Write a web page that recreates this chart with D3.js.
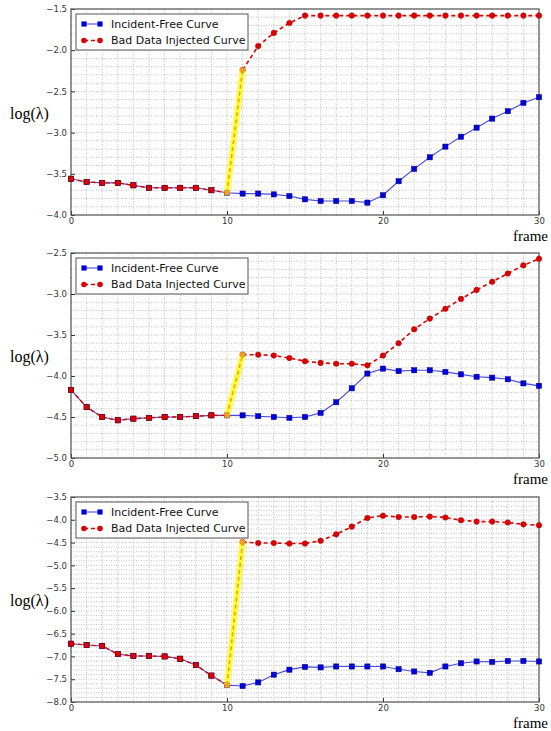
<!DOCTYPE html>
<html>
<head>
<meta charset="utf-8">
<script src="https://cdnjs.cloudflare.com/ajax/libs/d3/7.8.5/d3.min.js"></script>
<style>
  body { margin: 0; background: #fff; }
  svg { display: block; }
</style>
</head>
<body>
<svg width="551" height="731"></svg>
<script>
// frames on the x axis
const frames = d3.range(0, 31);
const xTicks = [0, 10, 20, 30];
const attackFrame = 10;

// panel 1
const free1 = [-3.56, -3.60, -3.61, -3.61, -3.64, -3.67, -3.67, -3.67, -3.67, -3.70, -3.73,
  -3.74, -3.74, -3.75, -3.77, -3.81, -3.83, -3.83, -3.83, -3.85, -3.76,
  -3.59, -3.44, -3.30, -3.17, -3.05, -2.94, -2.83, -2.74, -2.64, -2.57];
const bad1 = [-3.56, -3.60, -3.61, -3.61, -3.64, -3.67, -3.67, -3.67, -3.67, -3.70, -3.73,
  -2.24, -1.95, -1.79, -1.67, -1.58, -1.58, -1.58, -1.58, -1.58, -1.58,
  -1.58, -1.58, -1.58, -1.58, -1.58, -1.58, -1.58, -1.58, -1.58, -1.58];
const yTicks1 = [-4.0, -3.5, -3.0, -2.5, -2.0, -1.5];

// panel 2
const free2 = [-4.17, -4.38, -4.50, -4.54, -4.52, -4.51, -4.50, -4.50, -4.49, -4.48, -4.48,
  -4.48, -4.49, -4.50, -4.51, -4.50, -4.45, -4.32, -4.15, -3.97, -3.91,
  -3.94, -3.93, -3.93, -3.95, -3.98, -4.01, -4.02, -4.04, -4.09, -4.12];
const bad2 = [-4.17, -4.38, -4.50, -4.54, -4.52, -4.51, -4.50, -4.50, -4.49, -4.48, -4.48,
  -3.74, -3.74, -3.75, -3.78, -3.82, -3.84, -3.85, -3.85, -3.87, -3.75,
  -3.60, -3.43, -3.30, -3.18, -3.06, -2.95, -2.85, -2.75, -2.65, -2.57];
const yTicks2 = [-5.0, -4.5, -4.0, -3.5, -3.0, -2.5];

// panel 3
const free3 = [-6.72, -6.75, -6.77, -6.95, -6.99, -6.99, -7.00, -7.05, -7.19, -7.42, -7.63,
  -7.65, -7.57, -7.40, -7.29, -7.23, -7.24, -7.22, -7.22, -7.22, -7.22,
  -7.28, -7.33, -7.36, -7.22, -7.15, -7.11, -7.12, -7.10, -7.10, -7.11];
const bad3 = [-6.72, -6.75, -6.77, -6.95, -6.99, -6.99, -7.00, -7.05, -7.19, -7.42, -7.63,
  -4.49, -4.51, -4.51, -4.52, -4.52, -4.46, -4.32, -4.15, -3.96, -3.91,
  -3.94, -3.94, -3.93, -3.95, -4.01, -4.04, -4.04, -4.06, -4.10, -4.12];
const yTicks3 = [-8.0, -7.5, -7.0, -6.5, -6.0, -5.5, -5.0, -4.5, -4.0, -3.5];

const legendLabels = ["Incident-Free Curve", "Bad Data Injected Curve"];

const panels = [
  { free: free1, bad: bad1, ticks: yTicks1, top: 9, height: 206 },
  { free: free2, bad: bad2, ticks: yTicks2, top: 253, height: 205 },
  { free: free3, bad: bad3, ticks: yTicks3, top: 497, height: 205 }
];

const left = 71;
const width = 468;
const blue = "#0000dd";
const red = "#dd0000";
const orange = "#f0a020";
const fmt = (v) => d3.format(".1f")(v).replace("-", "\u2212");

const svg = d3.select("svg");

panels.forEach((p) => {
  const g = svg.append("g").attr("transform", "translate(" + left + "," + p.top + ")");

  const x = d3.scaleLinear().domain([0, 30]).range([0, width]);
  const y = d3.scaleLinear().domain(d3.extent(p.ticks)).range([p.height, 0]);

  // grid (every frame, every 0.1)
  const minorY = d3.range(Math.round(y.domain()[0] * 10), Math.round(y.domain()[1] * 10) + 1).map((d) => d / 10);
  g.append("g")
    .selectAll("line")
    .data(minorY)
    .enter()
    .append("line")
    .attr("x1", 0)
    .attr("x2", width)
    .attr("y1", (d) => y(d))
    .attr("y2", (d) => y(d))
    .attr("stroke", "#999")
    .attr("stroke-width", 0.6)
    .attr("stroke-dasharray", "1,1.5");
  g.append("g")
    .selectAll("line")
    .data(frames)
    .enter()
    .append("line")
    .attr("x1", (d) => x(d))
    .attr("x2", (d) => x(d))
    .attr("y1", 0)
    .attr("y2", p.height)
    .attr("stroke", "#999")
    .attr("stroke-width", 0.6)
    .attr("stroke-dasharray", "1,1.5");

  // axes
  const xAxis = g.append("g")
    .attr("transform", "translate(0," + p.height + ")")
    .call(d3.axisBottom(x).tickValues(xTicks).tickSize(-4).tickPadding(3).tickFormat(d3.format("d")));
  const yAxis = g.append("g")
    .call(d3.axisLeft(y).tickValues(p.ticks).tickSize(-4).tickPadding(4).tickFormat(fmt));
  [xAxis, yAxis].forEach((a) => {
    a.select(".domain").remove();
    a.selectAll("line").attr("stroke", "#333");
    a.selectAll("text")
      .attr("fill", "#333")
      .style("font-family", "DejaVu Sans")
      .style("font-size", "8.5px");
  });

  // frame around plot
  g.append("rect")
    .attr("width", width)
    .attr("height", p.height)
    .attr("fill", "none")
    .attr("stroke", "#555")
    .attr("stroke-width", 1.2);

  const line = d3.line()
    .x((d, i) => x(frames[i]))
    .y((d) => y(d));

  // incident-free curve
  g.append("path")
    .datum(p.free)
    .attr("d", line)
    .attr("fill", "none")
    .attr("stroke", "#4a4ad8")
    .attr("stroke-width", 1.1);
  g.selectAll(".free")
    .data(p.free)
    .enter()
    .append("rect")
    .attr("class", "free")
    .attr("x", (d, i) => x(frames[i]) - 2.6)
    .attr("y", (d) => y(d) - 2.6)
    .attr("width", 5.2)
    .attr("height", 5.2)
    .attr("fill", blue)
    .attr("stroke", "#000088")
    .attr("stroke-width", 0.5);

  // bad data curve, before and after the attack
  const before = p.bad.slice(0, attackFrame + 1);
  const after = p.bad.slice(attackFrame + 1);
  g.append("path")
    .datum(before)
    .attr("d", line)
    .attr("fill", "none")
    .attr("stroke", red)
    .attr("stroke-width", 1.4)
    .attr("stroke-dasharray", "4,3");
  g.selectAll(".badSq")
    .data(before.slice(0, attackFrame))
    .enter()
    .append("rect")
    .attr("class", "badSq")
    .attr("x", (d, i) => x(frames[i]) - 2.6)
    .attr("y", (d) => y(d) - 2.6)
    .attr("width", 5.2)
    .attr("height", 5.2)
    .attr("fill", red)
    .attr("stroke", "#660000")
    .attr("stroke-width", 0.5);

  const afterLine = d3.line()
    .x((d, i) => x(frames[i + attackFrame + 1]))
    .y((d) => y(d));
  g.append("path")
    .datum(after)
    .attr("d", afterLine)
    .attr("fill", "none")
    .attr("stroke", red)
    .attr("stroke-width", 1.6)
    .attr("stroke-dasharray", "4,3");
  g.selectAll(".badDot")
    .data(after)
    .enter()
    .append("circle")
    .attr("class", "badDot")
    .attr("cx", (d, i) => x(frames[i + attackFrame + 1]))
    .attr("cy", (d) => y(d))
    .attr("r", 2.8)
    .attr("fill", red)
    .attr("stroke", "#990000")
    .attr("stroke-width", 0.4);

  // highlighted jump at the attack
  const jump = [
    [x(attackFrame), y(p.bad[attackFrame])],
    [x(attackFrame + 1), y(p.bad[attackFrame + 1])]
  ];
  g.append("path")
    .datum(jump)
    .attr("d", d3.line())
    .attr("stroke", "#ffff00")
    .attr("stroke-opacity", 0.75)
    .attr("stroke-width", 6);
  g.append("path")
    .datum(jump)
    .attr("d", d3.line())
    .attr("stroke", orange)
    .attr("stroke-width", 1.6)
    .attr("stroke-dasharray", "4,3");
  g.append("rect")
    .attr("x", jump[0][0] - 2.6)
    .attr("y", jump[0][1] - 2.6)
    .attr("width", 5.2)
    .attr("height", 5.2)
    .attr("fill", orange);
  g.append("circle")
    .attr("cx", jump[1][0])
    .attr("cy", jump[1][1])
    .attr("r", 2.8)
    .attr("fill", orange);

  // legend
  const lg = g.append("g").attr("transform", "translate(5,5)");
  lg.append("rect")
    .attr("width", 172)
    .attr("height", 36)
    .attr("fill", "#fff")
    .attr("stroke", "#555")
    .attr("stroke-width", 1);
  legendLabels.forEach((label, i) => {
    const ly = 10 + i * 16.5;
    lg.append("line")
      .attr("x1", 8)
      .attr("x2", 24)
      .attr("y1", ly)
      .attr("y2", ly)
      .attr("stroke", i === 0 ? "#4a4ad8" : red)
      .attr("stroke-width", i === 0 ? 1.1 : 1.6)
      .attr("stroke-dasharray", i === 0 ? null : "4,3");
    [8, 24].forEach((lx) => {
      if (i === 0) {
        lg.append("rect")
          .attr("x", lx - 2.6)
          .attr("y", ly - 2.6)
          .attr("width", 5.2)
          .attr("height", 5.2)
          .attr("fill", blue);
      } else {
        lg.append("circle")
          .attr("cx", lx)
          .attr("cy", ly)
          .attr("r", 2.8)
          .attr("fill", red);
      }
    });
    lg.append("text")
      .attr("x", 35)
      .attr("y", ly)
      .attr("dy", "0.35em")
      .style("font-family", "DejaVu Sans")
      .style("font-size", "11px")
      .attr("fill", "#111")
      .text(label);
  });

  // axis labels
  svg.append("text")
    .attr("x", 10)
    .attr("y", p.top + p.height / 2 + 1)
    .attr("dy", "0.35em")
    .style("font-family", "Liberation Serif")
    .style("font-size", "16px")
    .text("log(\u03bb)");
  svg.append("text")
    .attr("x", 548)
    .attr("y", p.top + p.height + 25.5)
    .attr("text-anchor", "end")
    .style("font-family", "Liberation Serif")
    .style("font-size", "15px")
    .text("frame");
});
</script>
</body>
</html>
